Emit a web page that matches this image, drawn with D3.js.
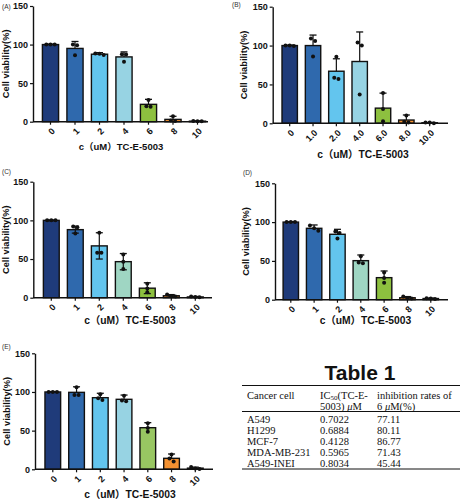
<!DOCTYPE html>
<html><head><meta charset="utf-8">
<script src="https://cdn.jsdelivr.net/npm/d3@7"></script>
<style>body{margin:0;background:#fff} svg{display:block}</style>
</head><body>
<svg id="c" width="461" height="500"></svg>
<script>
// ---------- data ----------
const catsNum = ["0","1","2","4","6","8","10"];
const catsDec = ["0","1.0","2.0","4.0","6.0","8.0","10.0"];
const yTickValues = [0, 50, 100, 150];

const meanA = [100, 95, 87.5, 84, 22.5, 3, 0.7];
const sdA   = [0.6, 9, 2, 6.5, 6.5, 4, 0.3];
const ptsA  = [[100,100,100],[100,99,86],[88,88.5,86.5],[87,87.4,77.6],[28,20,19.5],[7,1.5,1],[0.5,1,0.5]];

const meanB = [100, 100, 67, 79.5, 19.5, 4.2, 0.7];
const sdB   = [0.6, 13.5, 16, 38, 19.3, 6.5, 0.4];
const ptsB  = [[100,99.5,100],[109,106,86],[85.7,57,58.7],[104,100,37],[39,18.5,2.5],[10,2,1],[0,1,1]];

const meanC = [100, 88, 67, 46.6, 12.3, 2.5, 1];
const sdC   = [0.5, 4.5, 17, 10.5, 7, 1.5, 0.6];
const ptsC  = [[100,100,100],[92,91,83],[84,58,58],[56,46.6,37],[18,12,7],[4,2,1.5],[1.5,0.5,1]];

const meanD = [100, 92, 84.3, 50.3, 28.4, 2.5, 1.5];
const sdD   = [0.5, 4.3, 6.4, 7.3, 8.6, 1.5, 0.5];
const ptsD  = [[100,100,100],[95.5,92,89],[88,86,79],[56,48,47],[35,28,22],[4,2,1.5],[1.5,1,2]];

const meanE = [100, 99.5, 92.6, 90.5, 53.8, 14.2, 1.5];
const sdE   = [0.5, 7.2, 5.7, 5.5, 6.5, 5.6, 1.3];
const ptsE  = [[100,100,100],[106,96,96],[97,92,89.5],[95,89,88],[59.5,53.5,48.5],[19,14,10],[3,1,0.5]];

const yTitle = "Cell viability(%)";
const xTitle = "c（uM）TC-E-5003";

const tableTitle = "Table 1";
const tableCells = ["A549","H1299","MCF-7","MDA-MB-231","A549-INEI"];
const tableIC50  = ["0.7022","0.6884","0.4128","0.5965","0.8034"];
const tableInhib = ["77.11","80.11","86.77","71.43","45.44"];

// ---------- styles ----------
const colBlue  = ["#1f3b7a","#2f69ad","#63c5ee","#97d3e3","#8dc03f","#f39131","#e07070"];
const colMint  = ["#1f3b7a","#2f69ad","#63c5ee","#9fd6c3","#8dc03f","#f39131","#e07070"];
const colE     = ["#1f3b7a","#2f69ad","#63c5ee","#97d3e3","#98c662","#f39131","#e07070"];
const sans = "'Liberation Sans', Arial, 'Noto Sans CJK SC', sans-serif";
const serif = "'Liberation Serif', 'Times New Roman', serif";

const panels = [
  {letter:"(A)", lx:2, ly:8.5, cats:catsNum, mean:meanA, sd:sdA, pts:ptsA, cols:colBlue, both:false,
   ax:33, y0:121.7, yTop:6, c0:50.5, step:24.5, axEnd:208, ylx:5.5, xlx:121, xly:149.5, xfs:9.5},
  {letter:"(B)", lx:232, ly:7, cats:catsDec, mean:meanB, sd:sdB, pts:ptsB, cols:colBlue, both:false,
   ax:272.7, y0:123.3, yTop:6.7, c0:289.7, step:23.33, axEnd:448, ylx:244, xlx:363, xly:158, xfs:10.3},
  {letter:"(C)", lx:2, ly:174, cats:catsNum, mean:meanC, sd:sdC, pts:ptsC, cols:colMint, both:true,
   ax:33.3, y0:297.7, yTop:181.7, c0:51.3, step:24, axEnd:212, ylx:5.5, xlx:130, xly:324, xfs:10.3},
  {letter:"(D)", lx:243, ly:174.5, cats:catsNum, mean:meanD, sd:sdD, pts:ptsD, cols:colMint, both:false,
   ax:275, y0:299.7, yTop:183.3, c0:290.8, step:23.33, axEnd:448, ylx:245.8, xlx:365.5, xly:324, xfs:10.3},
  {letter:"(E)", lx:2, ly:348.5, cats:catsNum, mean:meanE, sd:sdE, pts:ptsE, cols:colE, both:false,
   ax:35, y0:469.3, yTop:353.3, c0:52.8, step:23.75, axEnd:213, ylx:6.7, xlx:130, xly:497.5, xfs:10.3}
];

const svg = d3.select("#c");

panels.forEach(p => {
  const g = svg.append("g");
  const x = d3.scaleBand().domain(p.cats)
    .range([p.c0 - p.step/2, p.c0 - p.step/2 + p.cats.length*p.step])
    .paddingInner(0.34).paddingOuter(0.17);
  const y = d3.scaleLinear().domain([0,150]).range([p.y0, p.yTop]);
  const bw = x.bandwidth();

  // bars
  g.selectAll("rect.bar").data(p.mean).join("rect")
    .attr("x", (d,i) => x(p.cats[i]))
    .attr("y", d => y(d))
    .attr("width", bw)
    .attr("height", d => p.y0 - y(d))
    .attr("fill", (d,i) => p.cols[i])
    .attr("stroke", "#111").attr("stroke-width", 1.4);

  // error bars
  p.mean.forEach((m,i) => {
    const cx = x(p.cats[i]) + bw/2;
    const hi = y(m + p.sd[i]);
    const lo = p.both ? y(Math.max(0, m - p.sd[i])) : y(m);
    g.append("line").attr("x1",cx).attr("x2",cx).attr("y1",hi).attr("y2",lo)
      .attr("stroke","#111").attr("stroke-width",1.2);
    g.append("line").attr("x1",cx-3.5).attr("x2",cx+3.5).attr("y1",hi).attr("y2",hi)
      .attr("stroke","#111").attr("stroke-width",1.3);
    if (p.both) {
      g.append("line").attr("x1",cx-3.5).attr("x2",cx+3.5).attr("y1",lo).attr("y2",lo)
        .attr("stroke","#111").attr("stroke-width",1.3);
    }
  });

  // points (spread when overlapping)
  p.pts.forEach((arr,i) => {
    const cx = x(p.cats[i]) + bw/2;
    const ys = arr.map(v => y(v)).sort((a,b)=>a-b);
    const groups = [];
    ys.forEach(v => {
      const last = groups[groups.length-1];
      if (last && v - last[last.length-1] < 3.5) last.push(v); else groups.push([v]);
    });
    groups.forEach(gr => {
      gr.forEach((v,k) => {
        const off = (k - (gr.length-1)/2) * 4.2;
        g.append("circle").attr("cx", cx + off).attr("cy", v).attr("r", 2).attr("fill","#111");
      });
    });
  });

  // y axis
  const ya = g.append("g").attr("transform", `translate(${p.ax},0)`)
    .call(d3.axisLeft(y).tickValues(yTickValues).tickSize(3).tickPadding(2).tickSizeOuter(0));
  ya.select(".domain").attr("stroke","#111").attr("stroke-width",1.4);
  ya.selectAll(".tick line").attr("stroke","#111").attr("stroke-width",1.2);
  ya.selectAll("text").attr("font-family", sans).attr("font-weight","bold")
    .attr("font-size", 9).attr("fill","#111");

  // x axis
  const xa = g.append("g").attr("transform", `translate(0,${p.y0})`)
    .call(d3.axisBottom(x).tickSize(3).tickSizeOuter(0));
  xa.select(".domain").remove();
  xa.selectAll(".tick line").attr("stroke","#111").attr("stroke-width",1.2);
  xa.selectAll("text").attr("font-family", sans).attr("font-weight","bold")
    .attr("font-size", 9).attr("fill","#111")
    .attr("text-anchor","end").attr("dy", 0).attr("y", 0)
    .attr("transform", "translate(3,8) rotate(-45)")
    .attr("dominant-baseline","central");
  g.append("line").attr("x1", p.ax).attr("x2", p.axEnd).attr("y1", p.y0).attr("y2", p.y0)
    .attr("stroke","#111").attr("stroke-width",1.4);

  // titles
  g.append("text").attr("transform", `translate(${p.ylx},${(p.y0+p.yTop)/2}) rotate(-90)`)
    .attr("text-anchor","middle").attr("dominant-baseline","central")
    .attr("font-family", sans).attr("font-weight","bold").attr("font-size", 9.3)
    .attr("fill","#111").text(yTitle);
  g.append("text").attr("x", p.xlx).attr("y", p.xly).attr("text-anchor","middle")
    .attr("font-family", sans).attr("font-weight","bold").attr("font-size", p.xfs)
    .attr("fill","#111").text(xTitle);
  g.append("text").attr("x", p.lx).attr("y", p.ly)
    .attr("font-family", sans).attr("font-size", 6.5).attr("fill","#333").text(p.letter);
});

// ---------- table ----------
const t = svg.append("g");
t.append("text").attr("x", 360).attr("y", 380).attr("text-anchor","middle")
  .attr("font-family", sans).attr("font-weight","bold").attr("font-size", 21).attr("fill","#111").text(tableTitle);
const tl = 242, tr = 460;
[385.5, 411.5, 469].forEach(yy => t.append("line").attr("x1",tl).attr("x2",tr)
  .attr("y1",yy).attr("y2",yy).attr("stroke","#111").attr("stroke-width",1));
const colX = [247, 320, 377];
const fs = 10.5;
function txt(xx, yy) {
  return t.append("text").attr("x", xx).attr("y", yy).attr("font-family", serif)
    .attr("font-size", fs).attr("fill","#111");
}
txt(colX[0], 398.5).text("Cancer cell");
const h1 = txt(colX[1], 398.5);
h1.append("tspan").text("IC");
h1.append("tspan").attr("font-size", 7).attr("dy", 1.5).text("50");
h1.append("tspan").attr("dy", -1.5).text("(TC-E-");
const h2 = txt(colX[1], 409.5);
h2.append("tspan").text("5003) ");
h2.append("tspan").attr("font-style","italic").text("μ");
h2.append("tspan").text("M");
txt(colX[2], 398.5).text("inhibition rates of");
const h3 = txt(colX[2], 409.5);
h3.append("tspan").text("6 ");
h3.append("tspan").attr("font-style","italic").text("μ");
h3.append("tspan").text("M(%)");
tableCells.forEach((c,i) => {
  const yy = 422.5 + i*11.1;
  txt(colX[0], yy).text(c);
  txt(colX[1], yy).text(tableIC50[i]);
  txt(colX[2], yy).text(tableInhib[i]);
});
</script>
</body></html>
